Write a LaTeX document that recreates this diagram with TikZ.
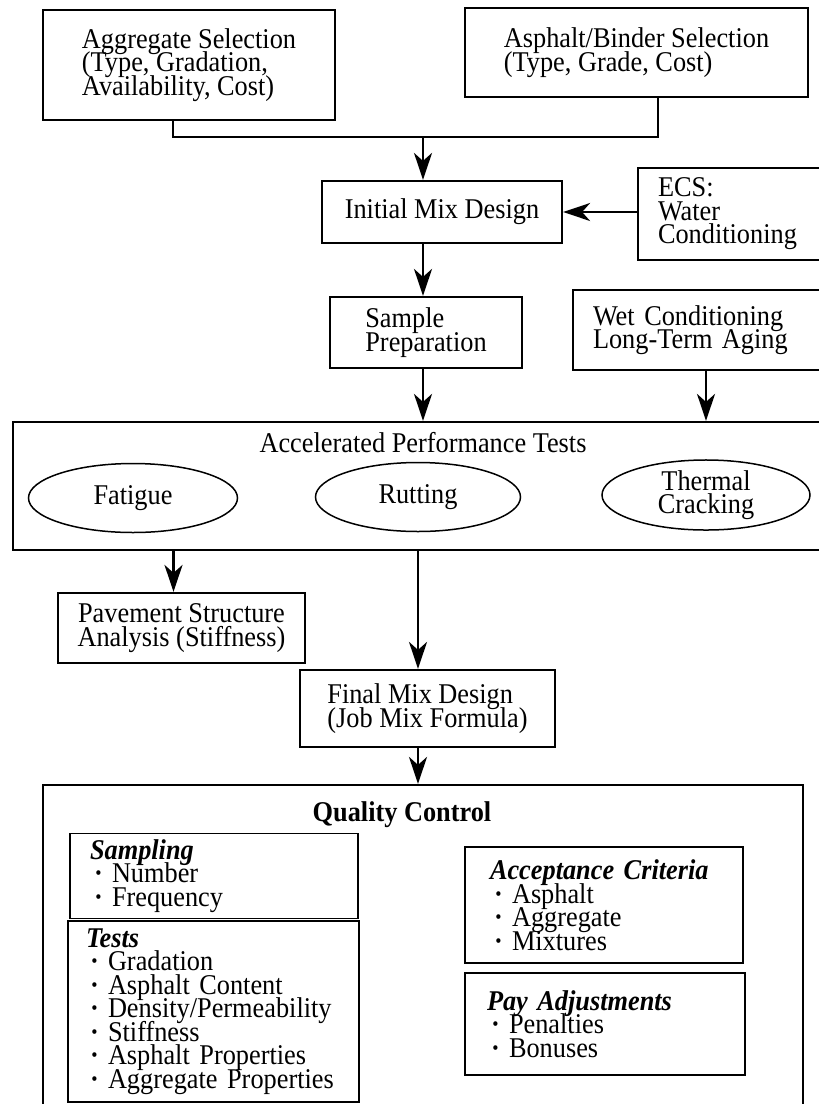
\documentclass[tikz,border=0pt]{standalone}
\usepackage{fontspec}
\setmainfont{Liberation Serif}[FakeStretch=0.92]
\usepackage{tikz}
\usetikzlibrary{positioning,arrows.meta,calc,shapes.geometric}
\newcommand{\dfont}{\fontsize{28.6pt}{23.5pt}\selectfont\lineskiplimit=-40pt\relax}
\newcommand{\qitem}{\makebox[22pt][l]{\hspace{4pt}\textbf{\textperiodcentered}}}

\begin{document}
\begin{tikzpicture}[
    x=1pt, y=-1pt,
    box/.style={draw, line width=2.2pt, inner sep=0pt, font=\dfont},
    sub/.style={draw, line width=1.5pt, inner sep=0pt, align=left, font=\dfont},
    oval/.style={draw, ellipse, line width=1.5pt, inner sep=0pt, align=center, font=\dfont},
    arr/.style={-{Stealth[length=27pt, width=18pt, inset=8pt]}, line width=2.2pt},
    link/.style={line width=2.2pt}
  ]
    \useasboundingbox (0,0) rectangle (819,1104);
    \clip (0,0) rectangle (819,1104);

    % selection boxes
    \node[box, minimum width=292pt, minimum height=110pt, align=left] (agg) at (189,65) {Aggregate Selection\\(Type, Gradation,\\Availability, Cost)};
    \node[box, minimum width=343pt, minimum height=89pt, align=left] (asph) at (636.5,52.5) {Asphalt/Binder Selection\\(Type, Grade, Cost)};
    \coordinate (join) at (423,137);

    \node[box, minimum width=240pt, minimum height=62pt, align=center] (init) at (442,212) {Initial Mix Design};
    \node[box, minimum width=262pt, minimum height=92pt, text width=222pt, align=left] (ecs) at (769,214) {ECS:\\Water\\Conditioning};
    \node[box, minimum width=192pt, minimum height=71pt, align=left] (prep) at (426,332.5) {Sample\\Preparation};
    \node[box, minimum width=327pt, minimum height=80pt, text width=287pt, align=left] (wet) at (736.5,330) {Wet Conditioning\\Long-Term Aging};

    % performance tests
    \node[box, minimum width=900pt, minimum height=128pt] (apt) at (463,486) {};
    \node[font=\dfont, inner sep=0pt] (apttitle) at (423,443) {Accelerated Performance Tests};
    \node[oval, minimum width=209pt, minimum height=69pt] (fat) at (133,498) {Fatigue};
    \node[oval, minimum width=205pt, minimum height=69pt] (rut) at (418,497) {Rutting};
    \node[oval, minimum width=208pt, minimum height=69pt] (therm) at (706,495) {Thermal\\Cracking};

    \node[box, minimum width=247pt, minimum height=70pt, align=center] (pave) at (181.5,628) {Pavement Structure\\Analysis (Stiffness)};
    \node[box, minimum width=255pt, minimum height=77pt, align=left] (final) at (427.5,708.5) {Final Mix Design\\(Job Mix Formula)};

    % quality control
    \node[box, minimum width=760pt, minimum height=415pt] (qc) at (423,992.5) {};
    \node[font=\dfont\bfseries, inner sep=0pt] (qctitle) at (402,815) {Quality Control};
    \node[sub, minimum width=288pt, minimum height=85pt, text width=248pt] (samp) at (214,876) {\textbf{\textit{Sampling}}\\\qitem Number\\\qitem Frequency};
    \node[sub, minimum width=291pt, minimum height=181pt, text width=255pt] (tests) at (213.5,1011.5) {\textbf{\textit{Tests}}\\\qitem Gradation\\\qitem Asphalt Content\\\qitem Density/Permeability\\\qitem Stiffness\\\qitem Asphalt Properties\\\qitem Aggregate Properties};
    \node[sub, minimum width=278pt, minimum height=116pt, text width=228pt] (accept) at (604,905) {\textbf{\textit{Acceptance Criteria}}\\\qitem Asphalt\\\qitem Aggregate\\\qitem Mixtures};
    \node[sub, minimum width=280pt, minimum height=102pt, text width=236pt] (pay) at (605,1024) {\textbf{\textit{Pay Adjustments}}\\\qitem Penalties\\\qitem Bonuses};

    % connectors
    \draw[link] ([xshift=-16pt]agg.south) |- (join);
    \draw[link] ([xshift=21.5pt]asph.south) |- (join);
    \draw[arr] (join) -- (join |- init.north);
    \draw[arr] (ecs.west |- init.east) -- (init.east);
    \draw[arr] (init.south -| join) -- (prep.north -| join);
    \draw[arr] (prep.south -| join) -- (apt.north -| join);
    \draw[arr] (wet.south -| therm) -- (apt.north -| therm);
    \draw[arr] ([xshift=-8pt]apt.south -| pave.north) -- ([xshift=-8pt]pave.north);
    \draw[arr] (apt.south -| rut) -- (final.north -| rut);
    \draw[arr] (final.south -| rut) -- (qc.north -| rut);
\end{tikzpicture}
\end{document}
